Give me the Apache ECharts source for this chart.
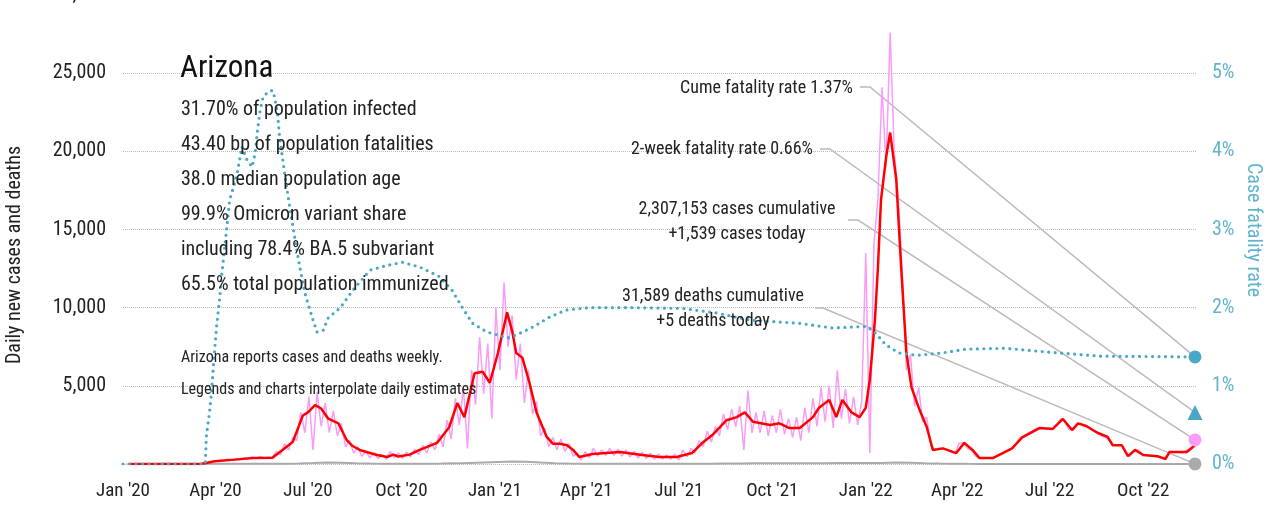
<!DOCTYPE html>
<html>
<head>
<meta charset="utf-8">
<script src="https://cdn.jsdelivr.net/npm/echarts@6/dist/echarts.min.js"></script>
<style>
  html, body { margin: 0; padding: 0; background: #fff; }
  #chart { width: 1283px; height: 508px; }
</style>
</head>
<body>
<div id="chart"></div>
<script>
// fonts / colours
const FONT = "'Roboto Condensed', 'DejaVu Sans Condensed', 'Liberation Sans Narrow', 'Noto Sans', sans-serif";
const STRETCH = "normal condensed";
const TEXT = "#222";
const TEAL = "#4aa8c6";
const TEAL_LABEL = "#62b4ce";
const PINK = "#f99cf7";
const GRAY = "#aaaaaa";

// x axis ticks
const xTickDates = ["2020-01-01", "2020-04-01", "2020-07-01", "2020-10-01", "2021-01-01", "2021-04-01",
  "2021-07-01", "2021-10-01", "2022-01-01", "2022-04-01", "2022-07-01", "2022-10-01"];
const xTickLabels = ["Jan '20", "Apr '20", "Jul '20", "Oct '20", "Jan '21", "Apr '21",
  "Jul '21", "Oct '21", "Jan '22", "Apr '22", "Jul '22", "Oct '22"];

// 7-day average of new cases (red)
const redDates = ["2020-01-07", "2020-03-17", "2020-03-23", "2020-03-31", "2020-04-20", "2020-05-08", "2020-05-27",
  "2020-06-06", "2020-06-16", "2020-06-26", "2020-07-01", "2020-07-08", "2020-07-14", "2020-07-21", "2020-07-31",
  "2020-08-08", "2020-08-14", "2020-08-21", "2020-09-07", "2020-09-17", "2020-09-23", "2020-09-28", "2020-10-09",
  "2020-10-19", "2020-11-05", "2020-11-17", "2020-11-25", "2020-12-02", "2020-12-12", "2020-12-20", "2020-12-27",
  "2021-01-04", "2021-01-13", "2021-01-18", "2021-01-22", "2021-01-28", "2021-02-04", "2021-02-11", "2021-02-21",
  "2021-02-27", "2021-03-06", "2021-03-13", "2021-03-19", "2021-03-25", "2021-04-07", "2021-05-04", "2021-05-26",
  "2021-06-12", "2021-06-29", "2021-07-14", "2021-07-24", "2021-08-03", "2021-08-17", "2021-08-27", "2021-09-04",
  "2021-09-12", "2021-09-29", "2021-10-08", "2021-10-18", "2021-10-28", "2021-11-10", "2021-11-16", "2021-11-26",
  "2021-12-03", "2021-12-09", "2021-12-18", "2021-12-26", "2022-01-01", "2022-01-05", "2022-01-10", "2022-01-13",
  "2022-01-16", "2022-01-21", "2022-01-25", "2022-01-31", "2022-02-05", "2022-02-10", "2022-02-15", "2022-02-23",
  "2022-03-02", "2022-03-08", "2022-03-18", "2022-03-31", "2022-04-08", "2022-04-16", "2022-04-23", "2022-05-06",
  "2022-05-25", "2022-06-04", "2022-06-21", "2022-07-04", "2022-07-14", "2022-07-23", "2022-07-29", "2022-08-06",
  "2022-08-17", "2022-08-27", "2022-09-01", "2022-09-10", "2022-09-16", "2022-09-23", "2022-10-01", "2022-10-15",
  "2022-10-23", "2022-10-27", "2022-11-13", "2022-11-21"];
const redValues = [0, 0, 60, 180, 280, 380, 400,
  900, 1400, 3100, 3300, 3770, 3550, 2900, 2600,
  1550, 1150, 900, 575, 450, 600, 480, 600,
  900, 1350, 2350, 3900, 3000, 5800, 5900, 5200,
  7100, 9700, 8500, 7100, 6800, 5200, 3300, 1730,
  1300, 1300, 1200, 900, 450, 640, 770, 575,
  450, 450, 700, 1340, 1850, 2800, 3000, 3300,
  2700, 2500, 2600, 2300, 2300, 3000, 3600, 4100,
  3000, 4100, 3300, 3000, 3600, 5400, 9200, 12600,
  16900, 19600, 21200, 18200, 12400, 7100, 4900, 3450,
  2370, 900, 1000, 700, 1350, 900, 380, 380,
  1000, 1700, 2300, 2240, 2880, 2170, 2600, 2430,
  2000, 1730, 1200, 1200, 500, 900, 575, 500,
  320, 770, 770, 1200];

// daily new cases (pink), every 4 days from 2020-01-04
const pinkValues = [0, 0, 0, 0, 0, 0, 0, 0, 0, 0, 0, 0, 0, 0, 0, 0, 0, 0, 0,
  20, 90, 150, 200, 240, 220, 300, 250, 330, 280, 390, 330, 450, 350, 480, 380, 450, 420,
  800, 600, 1300, 900, 1700, 1500, 3300, 2000, 4300, 900, 4600, 2400, 3900, 2000, 3400, 1800,
  2600, 1100, 1500, 700, 1100, 500, 800, 400, 700, 350, 600, 300, 800, 400, 700, 350,
  750, 450, 950, 600, 1200, 700, 1400, 900, 1900, 1100, 2800, 1600, 4200, 2500, 4900, 1000,
  6000, 3800, 8100, 4500, 7700, 2900, 10000, 6000, 11600, 7500, 9500, 5400, 7700, 3900, 6000, 3200,
  4000, 1800, 2300, 1100, 1700, 900, 1600, 800, 1300, 500, 700, 250, 800, 400, 1000, 500,
  900, 550, 1000, 550, 950, 500, 900, 450, 800, 400, 750, 350, 700, 300, 650, 300,
  600, 300, 650, 250, 900, 450, 1000, 700, 1500, 1100, 2100, 1400, 2400, 1800, 3200, 2200,
  3500, 2400, 3700, 900, 4700, 2000, 3300, 2000, 3400, 1800, 3100, 2000, 3500, 1900, 2900, 1700,
  3000, 1500, 3600, 2000, 4200, 2400, 4900, 2700, 5000, 2300, 6000, 2900, 4800, 2600, 4300, 2500,
  4000, 13500, 700, 14000, 17000, 24100, 19000, 27600, 20000, 17000, 12000, 6000, 7000, 3700, 4900, 2700,
  3000, 1200, 900, 1000, 1000, 900, 750, 700, 1350, 1350, 1000, 900, 500, 380, 350, 380,
  380, 450, 600, 700, 900, 1000, 1300, 1700, 1800, 2000, 2100, 2300, 2300, 2250, 2300, 2240,
  2500, 2900, 2700, 2200, 2200, 2600, 2550, 2400, 2300, 2100, 2000, 1800, 1700, 1500, 1200, 1200,
  1200, 700, 500, 800, 900, 650, 550, 550, 500, 450, 350, 500, 800, 750, 750, 700,
  900, 1000, 1300];

// daily deaths (gray), every 14 days from 2020-01-06
const deathValues = [0, 0, 0, 0, 0, 1, 8, 15, 20, 18, 15, 20, 35, 60, 90, 75, 50, 30, 20, 10,
  12, 15, 25, 40, 70, 100, 130, 160, 140, 90, 50, 30, 15, 12, 10, 10, 8, 8, 10, 10,
  12, 18, 25, 35, 40, 45, 40, 45, 50, 55, 60, 65, 60, 70, 90, 80, 50, 30, 20, 10,
  5, 5, 5, 4, 5, 5, 5, 4, 4, 5, 5, 4, 5, 5, 5, 5];

// case fatality rate, %
const cfrDates = ["2020-01-01", "2020-03-22", "2020-03-23", "2020-03-26", "2020-03-28", "2020-03-31", "2020-04-02",
  "2020-04-05", "2020-04-07", "2020-04-12", "2020-04-15", "2020-04-20", "2020-04-23", "2020-04-27", "2020-05-02",
  "2020-05-07", "2020-05-10", "2020-05-12", "2020-05-15", "2020-05-18", "2020-05-23", "2020-05-27", "2020-05-29",
  "2020-06-01", "2020-06-03", "2020-06-08", "2020-06-13", "2020-06-18", "2020-06-23", "2020-06-28", "2020-07-05",
  "2020-07-10", "2020-07-16", "2020-07-21", "2020-08-02", "2020-08-14", "2020-08-31", "2020-09-17", "2020-10-02",
  "2020-10-19", "2020-11-07", "2020-11-20", "2020-11-30", "2020-12-10", "2020-12-24", "2021-01-04", "2021-01-13",
  "2021-01-22", "2021-02-07", "2021-02-24", "2021-03-12", "2021-04-04", "2021-05-16", "2021-07-05", "2021-08-08",
  "2021-09-09", "2021-10-28", "2021-11-29", "2022-01-02", "2022-01-11", "2022-01-21", "2022-02-03", "2022-02-20",
  "2022-03-17", "2022-04-10", "2022-05-19", "2022-07-01", "2022-08-19", "2022-11-21"];
const cfrValues = [0, 0, 0.35, 0.65, 0.9, 1.42, 1.75,
  2.1, 2.4, 3.0, 3.38, 3.6, 3.76, 4.06, 3.89,
  3.8, 3.97, 4.23, 4.53, 4.7, 4.76, 4.78, 4.7,
  4.5, 4.2, 3.72, 3.29, 2.9, 2.52, 2.19, 1.88,
  1.69, 1.71, 1.87, 2.0, 2.22, 2.48, 2.54, 2.58,
  2.52, 2.4, 2.22, 2.0, 1.8, 1.69, 1.65, 1.61,
  1.65, 1.75, 1.88, 1.97, 2.0, 2.0, 1.99, 1.93,
  1.84, 1.8, 1.74, 1.76, 1.67, 1.52, 1.42, 1.39,
  1.42, 1.47, 1.48, 1.43, 1.38, 1.37];

// latest values
const lastDate = "2022-11-21";
const cumeFatality = 1.37;
const twoWeekFatality = 0.66;
const casesToday = 1539;
const deathsToday = 5;

const infoLines = ["31.70% of population infected", "43.40 bp of population fatalities", "38.0 median population age",
  "99.9% Omicron variant share", "including 78.4% BA.5 subvariant", "65.5% total population immunized"];

const toTs = (s) => {
  const [y, m, d] = s.split("-").map(Number);
  return new Date(y, m - 1, d).getTime();
};

const redData = redDates.map((d, i) => [toTs(d), redValues[i]]);
const pinkData = pinkValues.map((v, i) => [new Date(2020, 0, 4 + 4 * i).getTime(), v]);
const deathData = deathValues.map((v, i) => [new Date(2020, 0, 6 + 14 * i).getTime(), v]);
const cfrData = cfrDates.map((d, i) => [toTs(d), cfrValues[i]]);
const endTs = toTs(lastDate);

const tickTs = xTickDates.map(toTs);

const chart = echarts.init(document.getElementById("chart"));

const txt = (size, color, weight) => ({
  fontFamily: FONT, fontSize: size, color: color, fontWeight: weight || STRETCH
});

const marker = (name, yIdx, value, symbol, size, color) => ({
  name: name,
  type: "scatter",
  yAxisIndex: yIdx,
  data: [[endTs, value]],
  symbol: symbol,
  symbolSize: size,
  itemStyle: { color: color, opacity: 1 },
  z: 10,
  silent: true
});

chart.setOption({
  animation: false,
  grid: { left: 123, right: 87, top: -5, bottom: 44, outerBoundsMode: "none", containLabel: false },
  xAxis: {
    type: "value",
    min: toTs("2020-01-01"),
    max: toTs("2022-11-22"),
    axisLine: { show: false },
    axisTick: { show: false },
    splitLine: { show: false },
    axisLabel: {
      customValues: tickTs,
      margin: 18,
      ...txt(19, TEXT),
      formatter: (v) => {
        const i = tickTs.indexOf(v);
        return i >= 0 ? xTickLabels[i] : "";
      }
    }
  },
  yAxis: [
    {
      type: "value",
      min: 0,
      max: 30000,
      interval: 5000,
      axisLine: { show: false },
      axisTick: { show: false },
      axisLabel: {
        margin: 17,
        ...txt(20, TEXT),
        formatter: (v) => (v === 0 ? "" : v.toLocaleString("en-US"))
      },
      splitLine: { lineStyle: { type: "dotted", color: "#bbbbbb", width: 1 } }
    },
    {
      type: "value",
      min: 0,
      max: 6,
      interval: 1,
      position: "right",
      axisLine: { show: false },
      axisTick: { show: false },
      axisLabel: { margin: 16, ...txt(20, TEAL_LABEL), formatter: "{value}%" },
      splitLine: { show: false }
    }
  ],
  series: [
    {
      name: "Daily cases",
      type: "line",
      data: pinkData,
      showSymbol: false,
      lineStyle: { color: PINK, width: 1.5 },
      z: 2,
      silent: true
    },
    {
      name: "Daily deaths",
      type: "line",
      data: deathData,
      showSymbol: false,
      lineStyle: { color: GRAY, width: 2 },
      z: 2,
      silent: true
    },
    {
      name: "7-day average",
      type: "line",
      data: redData,
      showSymbol: false,
      lineStyle: { color: "#ff0000", width: 2.5 },
      z: 3,
      silent: true
    },
    {
      name: "Case fatality rate",
      type: "line",
      yAxisIndex: 1,
      data: cfrData,
      showSymbol: false,
      lineStyle: { color: TEAL, width: 3.2, type: [0, 6.5], cap: "round" },
      z: 4,
      silent: true
    },
    marker("Cume fatality", 1, cumeFatality, "circle", 13, TEAL),
    marker("2-week fatality", 1, twoWeekFatality, "triangle", 15, TEAL),
    marker("Cases today", 0, casesToday, "circle", 13, PINK),
    marker("Deaths today", 0, deathsToday, "circle", 13, GRAY)
  ]
});

// annotations
const ptR = (v) => chart.convertToPixel({ xAxisIndex: 0, yAxisIndex: 1 }, [endTs, v]);
const ptL = (v) => chart.convertToPixel({ xAxisIndex: 0, yAxisIndex: 0 }, [endTs, v]);

const text = (t, x, y, size, opts) => Object.assign({
  type: "text",
  x: x,
  y: y,
  silent: true,
  z: 5,
  style: Object.assign({
    text: t,
    fontFamily: FONT,
    fontSize: size,
    fontWeight: STRETCH,
    fill: TEXT,
    align: "left",
    verticalAlign: "middle"
  }, (opts && opts.style) || {})
}, opts && opts.el || {});

const leader = (x0, x1, y, end) => ({
  type: "polyline",
  silent: true,
  z: 1,
  shape: { points: [[x0, y], [x1, y], end] },
  style: { stroke: "#bbbbbb", lineWidth: 1.5, fill: null }
});

const graphics = [
  text("Arizona", 180, 69.5, 31, { style: { fill: "#111" } }),
  text("Arizona reports cases and deaths weekly.", 181, 358, 16),
  text("Legends and charts interpolate daily estimates", 181, 390, 16),
  text("Cume fatality rate 1.37%", 853, 88, 18, { style: { align: "right" } }),
  text("2-week fatality rate 0.66%", 813, 149, 18, { style: { align: "right" } }),
  text("2,307,153 cases cumulative\n+1,539 cases today", 737, 222, 18, { style: { align: "center", lineHeight: 24.5 } }),
  text("31,589 deaths cumulative\n+5 deaths today", 713, 309, 18, { style: { align: "center", lineHeight: 25 } }),
  text("Daily new cases and deaths", 15, 255, 20, { el: { rotation: Math.PI / 2 }, style: { align: "center" } }),
  text("Case fatality rate", 1253, 230, 20, { el: { rotation: -Math.PI / 2 }, style: { align: "center", fill: TEAL_LABEL } }),
  leader(860, 870, 87, ptR(cumeFatality)),
  leader(820, 830, 149, ptR(twoWeekFatality)),
  leader(848, 858, 220, ptL(casesToday)),
  leader(815, 823, 308, ptL(deathsToday))
];
infoLines.forEach((t, i) => graphics.push(text(t, 181, 109.5 + 35 * i, 20)));

chart.setOption({ graphic: graphics });
</script>
</body>
</html>
